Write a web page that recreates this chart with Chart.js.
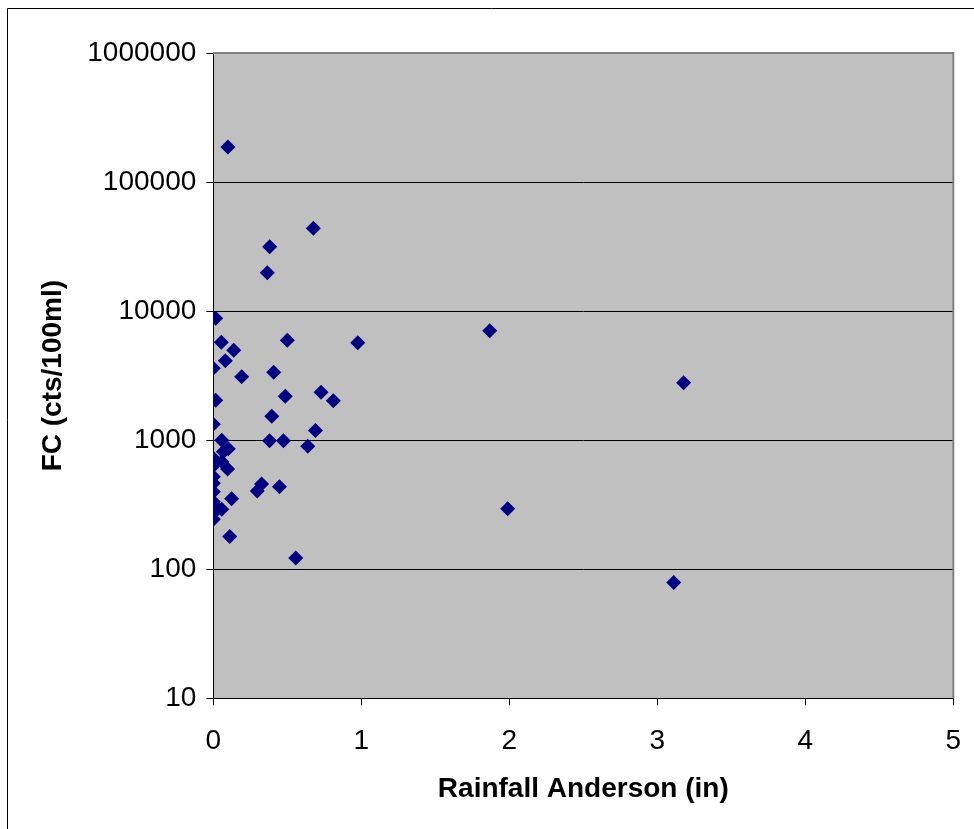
<!DOCTYPE html>
<html>
<head>
<meta charset="utf-8">
<script src="https://cdn.jsdelivr.net/npm/chart.js@4/dist/chart.umd.min.js"></script>
<style>
  html, body { margin: 0; padding: 0; background: #fff; }
  #wrap { width: 974px; height: 829px; position: relative; }
</style>
</head>
<body>
<div id="wrap"><canvas id="chart"></canvas></div>
<script>
// rainfall (in) vs fecal coliform (cts/100ml)
const rainfall = [
  0.099, 0.676, 0.381, 0.365, 0.016, 1.868, 3.178, 1.989, 3.111,
  0.054, 0.500, 0.976, 0.138, 0.081, 0.000, 0.192, 0.408, 0.728,
  0.486, 0.811, 0.016, 0.395, 0.000, 0.690, 0.057, 0.380, 0.474,
  0.638, 0.101, 0.068, 0.000, 0.057, 0.000, 0.097, 0.000, 0.000,
  0.000, 0.326, 0.297, 0.447, 0.124, 0.000, 0.016, 0.057, 0.000,
  0.000, 0.111, 0.557
];
const fc = [
  187000, 43850, 31550, 19860, 8800, 7050, 2790, 294, 79,
  5730, 5940, 5690, 4970, 4130, 3610, 3100, 3360, 2350,
  2190, 2020, 2040, 1530, 1330, 1190, 1000, 990, 990,
  897, 859, 814, 724, 681, 634, 598, 521, 463,
  399, 457, 404, 436, 352, 334, 305, 291, 271,
  244, 179, 122
];
const xTicks = [0, 1, 2, 3, 4, 5];
const yTicks = [10, 100, 1000, 10000, 100000, 1000000];

const points = rainfall.map((x, i) => ({ x: x, y: fc[i] }));

const plotFrame = {
  id: 'plotFrame',
  beforeDraw(chart) {
    const { ctx, chartArea: a } = chart;
    ctx.save();
    ctx.fillStyle = '#c0c0c0';
    ctx.fillRect(a.left, a.top, a.right - a.left, a.bottom - a.top);
    // outer frame, left and top edges only are inside the window
    ctx.strokeStyle = '#000';
    ctx.lineWidth = 1;
    ctx.beginPath();
    ctx.moveTo(7.5, 1000);
    ctx.lineTo(7.5, 8.5);
    ctx.lineTo(1000, 8.5);
    ctx.stroke();
    ctx.restore();
  },
  beforeDatasetsDraw(chart) {
    const { ctx, chartArea: a } = chart;
    ctx.save();
    ctx.strokeStyle = '#808080';
    ctx.lineWidth = 2;
    ctx.beginPath();
    ctx.moveTo(a.left, a.top);
    ctx.lineTo(a.right, a.top);
    ctx.lineTo(a.right, a.bottom);
    ctx.stroke();
    ctx.restore();
  }
};

Chart.defaults.font.family = '"Liberation Sans", Arial, sans-serif';
Chart.defaults.color = '#000';

new Chart(document.getElementById('chart'), {
  type: 'scatter',
  data: {
    datasets: [{
      data: points,
      pointStyle: 'rectRot',
      pointRadius: 7.5,
      pointBackgroundColor: '#000080',
      pointBorderColor: '#000080',
      pointBorderWidth: 0
    }]
  },
  options: {
    responsive: true,
    maintainAspectRatio: false,
    animation: false,
    layout: { padding: { top: 53, right: 20.7, bottom: 0, left: 0 } },
    plugins: { legend: { display: false }, tooltip: { enabled: false } },
    scales: {
      x: {
        type: 'linear',
        min: 0,
        max: 5,
        afterBuildTicks: s => { s.ticks = xTicks.map(v => ({ value: v })); },
        afterFit: s => { s.height = 130.7; s.paddingLeft = 0; s.paddingRight = 0; },
        grid: { drawOnChartArea: false, drawTicks: true, tickLength: 7, color: '#000' },
        border: { color: '#000', width: 1 },
        ticks: { padding: 19, font: { size: 28 }, callback: v => String(v) },
        title: {
          display: true,
          text: 'Rainfall Anderson (in)',
          font: { size: 28, weight: 'bold' },
          padding: { top: 23, bottom: 23 }
        }
      },
      y: {
        type: 'logarithmic',
        min: 10,
        max: 1000000,
        afterBuildTicks: s => { s.ticks = yTicks.map(v => ({ value: v })); },
        afterFit: s => { s.width = 213.3; s.paddingTop = 0; s.paddingBottom = 0; },
        grid: { drawTicks: true, tickLength: 7, color: '#000', lineWidth: 1 },
        border: { color: '#000', width: 1 },
        ticks: { padding: 10, font: { size: 28 }, callback: v => String(v) },
        title: {
          display: true,
          text: 'FC (cts/100ml)',
          font: { size: 28, weight: 'bold' },
          padding: { top: 36, bottom: 36 }
        }
      }
    }
  },
  plugins: [plotFrame]
});
</script>
</body>
</html>
